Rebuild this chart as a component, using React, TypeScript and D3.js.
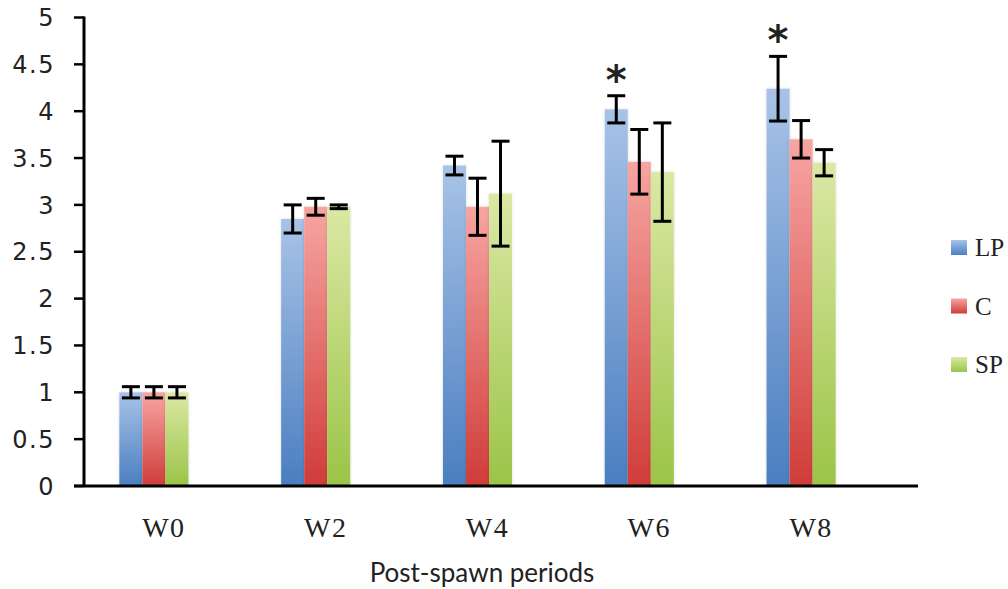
import React from "react";
import * as d3 from "d3";

const categories = ["W0", "W2", "W4", "W6", "W8"];
const seriesNames = ["LP", "C", "SP"];
const lpValues = [1.0, 2.85, 3.42, 4.02, 4.24];
const cValues = [1.0, 2.98, 2.98, 3.46, 3.7];
const spValues = [1.0, 2.98, 3.12, 3.35, 3.45];
const lpErrors = [0.06, 0.15, 0.1, 0.145, 0.345];
const cErrors = [0.06, 0.09, 0.305, 0.345, 0.2];
const spErrors = [0.06, 0.02, 0.56, 0.525, 0.14];
const significant = [
  { category: "W6", series: "LP" },
  { category: "W8", series: "LP" },
];
const yTicks = [0, 0.5, 1, 1.5, 2, 2.5, 3, 3.5, 4, 4.5, 5];
const xTitle = "Post-spawn periods";

const values: Record<string, number[]> = { LP: lpValues, C: cValues, SP: spValues };
const errors: Record<string, number[]> = { LP: lpErrors, C: cErrors, SP: spErrors };
const colors: Record<string, [string, string]> = {
  LP: ["#a8c3e7", "#4a7ec0"],
  C: ["#f7a5a2", "#cf3c39"],
  SP: ["#dbe8a4", "#9bc447"],
};

export default function App() {
  const W = 1008;
  const H = 589;
  const axisX = 84;
  const y = d3.scaleLinear().domain([0, 5]).range([486, 17.5]);
  const x = d3.scaleBand<string>().domain(categories).range([73, 882]).paddingInner(0.573).paddingOuter(0.2865);
  const xs = d3.scaleBand<string>().domain(seriesNames).range([0, x.bandwidth()]);
  const capW = 18;

  return (
    <svg width={W} height={H} style={{ position: "absolute", left: 0, top: 0 }}>
      <defs>
        {seriesNames.map((s) => (
          <linearGradient key={s} id={`g-${s}`} x1="0" y1="0" x2="0" y2="1">
            <stop offset="0%" stopColor={colors[s][0]} />
            <stop offset="100%" stopColor={colors[s][1]} />
          </linearGradient>
        ))}
        <filter id="shadow" x="-20%" y="-5%" width="140%" height="110%">
          <feDropShadow dx="0" dy="0" stdDeviation="1.5" floodColor="#000" floodOpacity="0.15" />
        </filter>
      </defs>
      <rect width={W} height={H} fill="#fff" />

      {/* bars */}
      {categories.map((c, i) => (
        <g key={c}>
          {seriesNames.map((s) => {
            const v = values[s][i];
            const bx = (x(c) as number) + (xs(s) as number);
            const bw = xs.bandwidth();
            return (
              <rect
                key={s}
                x={bx}
                y={y(v)}
                width={bw}
                height={y(0) - y(v)}
                fill={`url(#g-${s})`}
                filter="url(#shadow)"
              />
            );
          })}
        </g>
      ))}

      {/* error bars */}
      {categories.map((c, i) => (
        <g key={`e-${c}`} stroke="#000" strokeWidth={3}>
          {seriesNames.map((s) => {
            const v = values[s][i];
            const e = errors[s][i];
            const cx = (x(c) as number) + (xs(s) as number) + xs.bandwidth() / 2;
            return (
              <g key={s}>
                <line x1={cx} x2={cx} y1={y(v + e)} y2={y(v - e)} />
                <line x1={cx - capW / 2} x2={cx + capW / 2} y1={y(v + e)} y2={y(v + e)} />
                <line x1={cx - capW / 2} x2={cx + capW / 2} y1={y(v - e)} y2={y(v - e)} />
              </g>
            );
          })}
        </g>
      ))}

      {/* significance */}
      {significant.map((m) => {
        const i = categories.indexOf(m.category);
        const v = values[m.series][i] + errors[m.series][i];
        const cx = (x(m.category) as number) + (xs(m.series) as number) + xs.bandwidth() / 2;
        return (
          <text
            key={m.category}
            x={cx}
            y={y(v) - 2}
            textAnchor="middle"
            fontFamily="'DejaVu Sans', sans-serif"
            fontWeight="bold"
            fontSize={40}
            fill="#222"
          >
            *
          </text>
        );
      })}

      {/* y axis */}
      <line x1={axisX} x2={axisX} y1={y(5) - 1} y2={y(0)} stroke="#000" strokeWidth={3} />
      {yTicks.map((t) => (
        <g key={t}>
          <line x1={74} x2={axisX} y1={y(t)} y2={y(t)} stroke="#000" strokeWidth={2.5} />
          <text
            x={55}
            y={y(t)}
            dy="0.36em"
            textAnchor="end"
            fontFamily="'DejaVu Sans', sans-serif"
            fontSize={24}
            letterSpacing={1.5}
            fill="#222"
          >
            {t}
          </text>
        </g>
      ))}

      {/* x axis */}
      <line x1={74} x2={918} y1={y(0)} y2={y(0)} stroke="#000" strokeWidth={3} />
      {categories.map((c) => (
        <text
          key={c}
          x={(x(c) as number) + x.bandwidth() / 2 + 10}
          y={537}
          textAnchor="middle"
          fontFamily="'Liberation Serif', 'Times New Roman', serif"
          fontSize={28}
          letterSpacing={1.5}
          fill="#222"
        >
          {c}
        </text>
      ))}
      <text
        x={482}
        y={582}
        textAnchor="middle"
        fontFamily="Lato, 'Open Sans', sans-serif"
        fontSize={26}
        fill="#222"
      >
        {xTitle}
      </text>

      {/* legend */}
      {seriesNames.map((s, i) => (
        <g key={`l-${s}`} transform={`translate(951, ${240 + i * 58.5})`}>
          <rect width={16} height={15} fill={`url(#g-${s})`} />
          <text
            x={24}
            y={16}
            fontFamily="'Liberation Serif', 'Times New Roman', serif"
            fontSize={25}
            fill="#222"
          >
            {s}
          </text>
        </g>
      ))}
    </svg>
  );
}
